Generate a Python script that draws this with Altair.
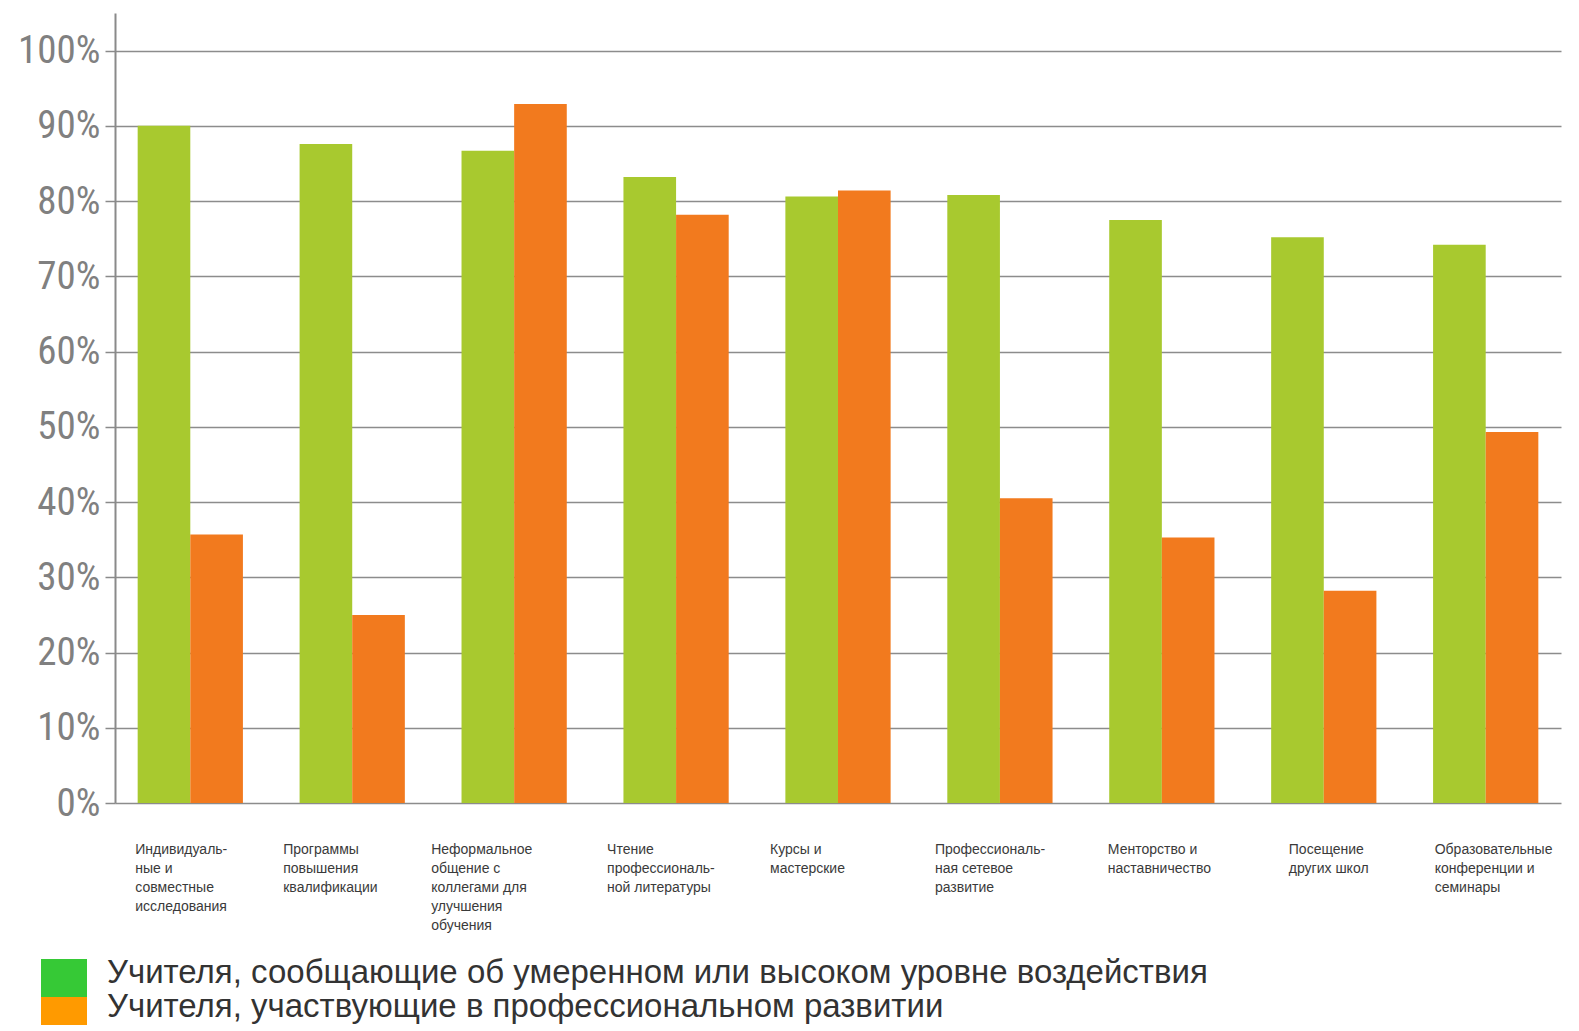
import altair as alt
import pandas as pd

categories = [
    "Индивидуаль-|ные и|совместные|исследования",
    "Программы|повышения|квалификации",
    "Неформальное|общение с|коллегами для|улучшения|обучения",
    "Чтение|профессиональ-|ной литературы",
    "Курсы и|мастерские",
    "Профессиональ-|ная сетевое|развитие",
    "Менторство и|наставничество",
    "Посещение|других школ",
    "Образовательные|конференции и|семинары",
]
impact = [90.0, 87.6, 86.7, 83.2, 80.6, 80.8, 77.5, 75.2, 74.2]
participation = [35.7, 25.0, 92.9, 78.2, 81.4, 40.5, 35.3, 28.2, 49.3]
series = ["impact", "participation"]
bar_colors = ["#a8c92f", "#f27a1e"]
legend_labels = [
    "Учителя, сообщающие об умеренном или высоком уровне воздействия",
    "Учителя, участвующие в профессиональном развитии",
]
legend_colors = ["#36c936", "#ff9a00"]
y_ticks = [0, 10, 20, 30, 40, 50, 60, 70, 80, 90, 100]
# horizontal nudges of the category captions (style only)
label_dx = [-55, -69, -83, -69, -68, -65, -54, -35, -51]

rows = []
for i, c in enumerate(categories):
    rows.append({"cat": c, "series": series[0], "value": impact[i]})
    rows.append({"cat": c, "series": series[1], "value": participation[i]})
df = pd.DataFrame(rows)

W, H = 1454, 790
x_scale = alt.Scale(domain=categories, paddingInner=0.35, paddingOuter=0.14, range=[0, 1446])

bars = alt.Chart(df).mark_bar().encode(
    x=alt.X("cat:N", sort=categories, title=None, scale=x_scale, axis=None),
    xOffset=alt.XOffset("series:N", sort=series),
    y=alt.Y(
        "value:Q",
        title=None,
        scale=alt.Scale(domain=[0, 105], nice=False),
        axis=alt.Axis(
            values=y_ticks,
            labelExpr="datum.value + '%'",
            labelFont="Liberation Sans Narrow, Roboto Condensed, Liberation Sans",
            labelFontSize=39,
            labelColor="#808080",
            labelPadding=5,
            tickSize=10,
            tickColor="#8a8a8a",
            tickWidth=1.5,
            domainColor="#8a8a8a",
            domainWidth=2,
            gridColor="#8c8c8c",
            gridWidth=1.6,
        ),
    ),
    color=alt.Color(
        "series:N",
        sort=series,
        scale=alt.Scale(domain=series, range=bar_colors),
        legend=None,
    ),
)

layers = [bars]
cat_df = pd.DataFrame({"cat": categories})
for i in range(len(categories)):
    lab = alt.Chart(cat_df.iloc[[i]]).mark_text(
        align="left", baseline="top", dx=label_dx[i], lineBreak="|",
        font="Liberation Sans", fontSize=14, lineHeight=19, color="#3a3a3a",
    ).encode(
        x=alt.X("cat:N", sort=categories, scale=x_scale, axis=None),
        y=alt.value(H + 40),
        text="cat:N",
    )
    layers.append(lab)

sq_y = [(946, 984), (984, 1018)]
txt_y = [960, 994]
for i in range(2):
    ldf = pd.DataFrame({"label": [legend_labels[i]]})
    sq = alt.Chart(ldf).mark_rect(color=legend_colors[i]).encode(
        x=alt.value(-74), x2=alt.value(-28),
        y=alt.value(sq_y[i][0]), y2=alt.value(sq_y[i][1]),
    )
    tx = alt.Chart(ldf).mark_text(
        align="left", baseline="middle", font="Liberation Sans",
        fontSize=33, color="#333333",
    ).encode(
        x=alt.value(-8), y=alt.value(txt_y[i]), text="label:N",
    )
    layers += [sq, tx]

chart = alt.layer(*layers).properties(
    width=W,
    height=H,
    background="white",
    autosize=alt.AutoSizeParams(type="none"),
    padding={"left": 107, "top": 5, "right": 2, "bottom": 222},
).configure_view(stroke=None)

chart.save("out.html", embed_options={"renderer": "svg", "actions": False})
